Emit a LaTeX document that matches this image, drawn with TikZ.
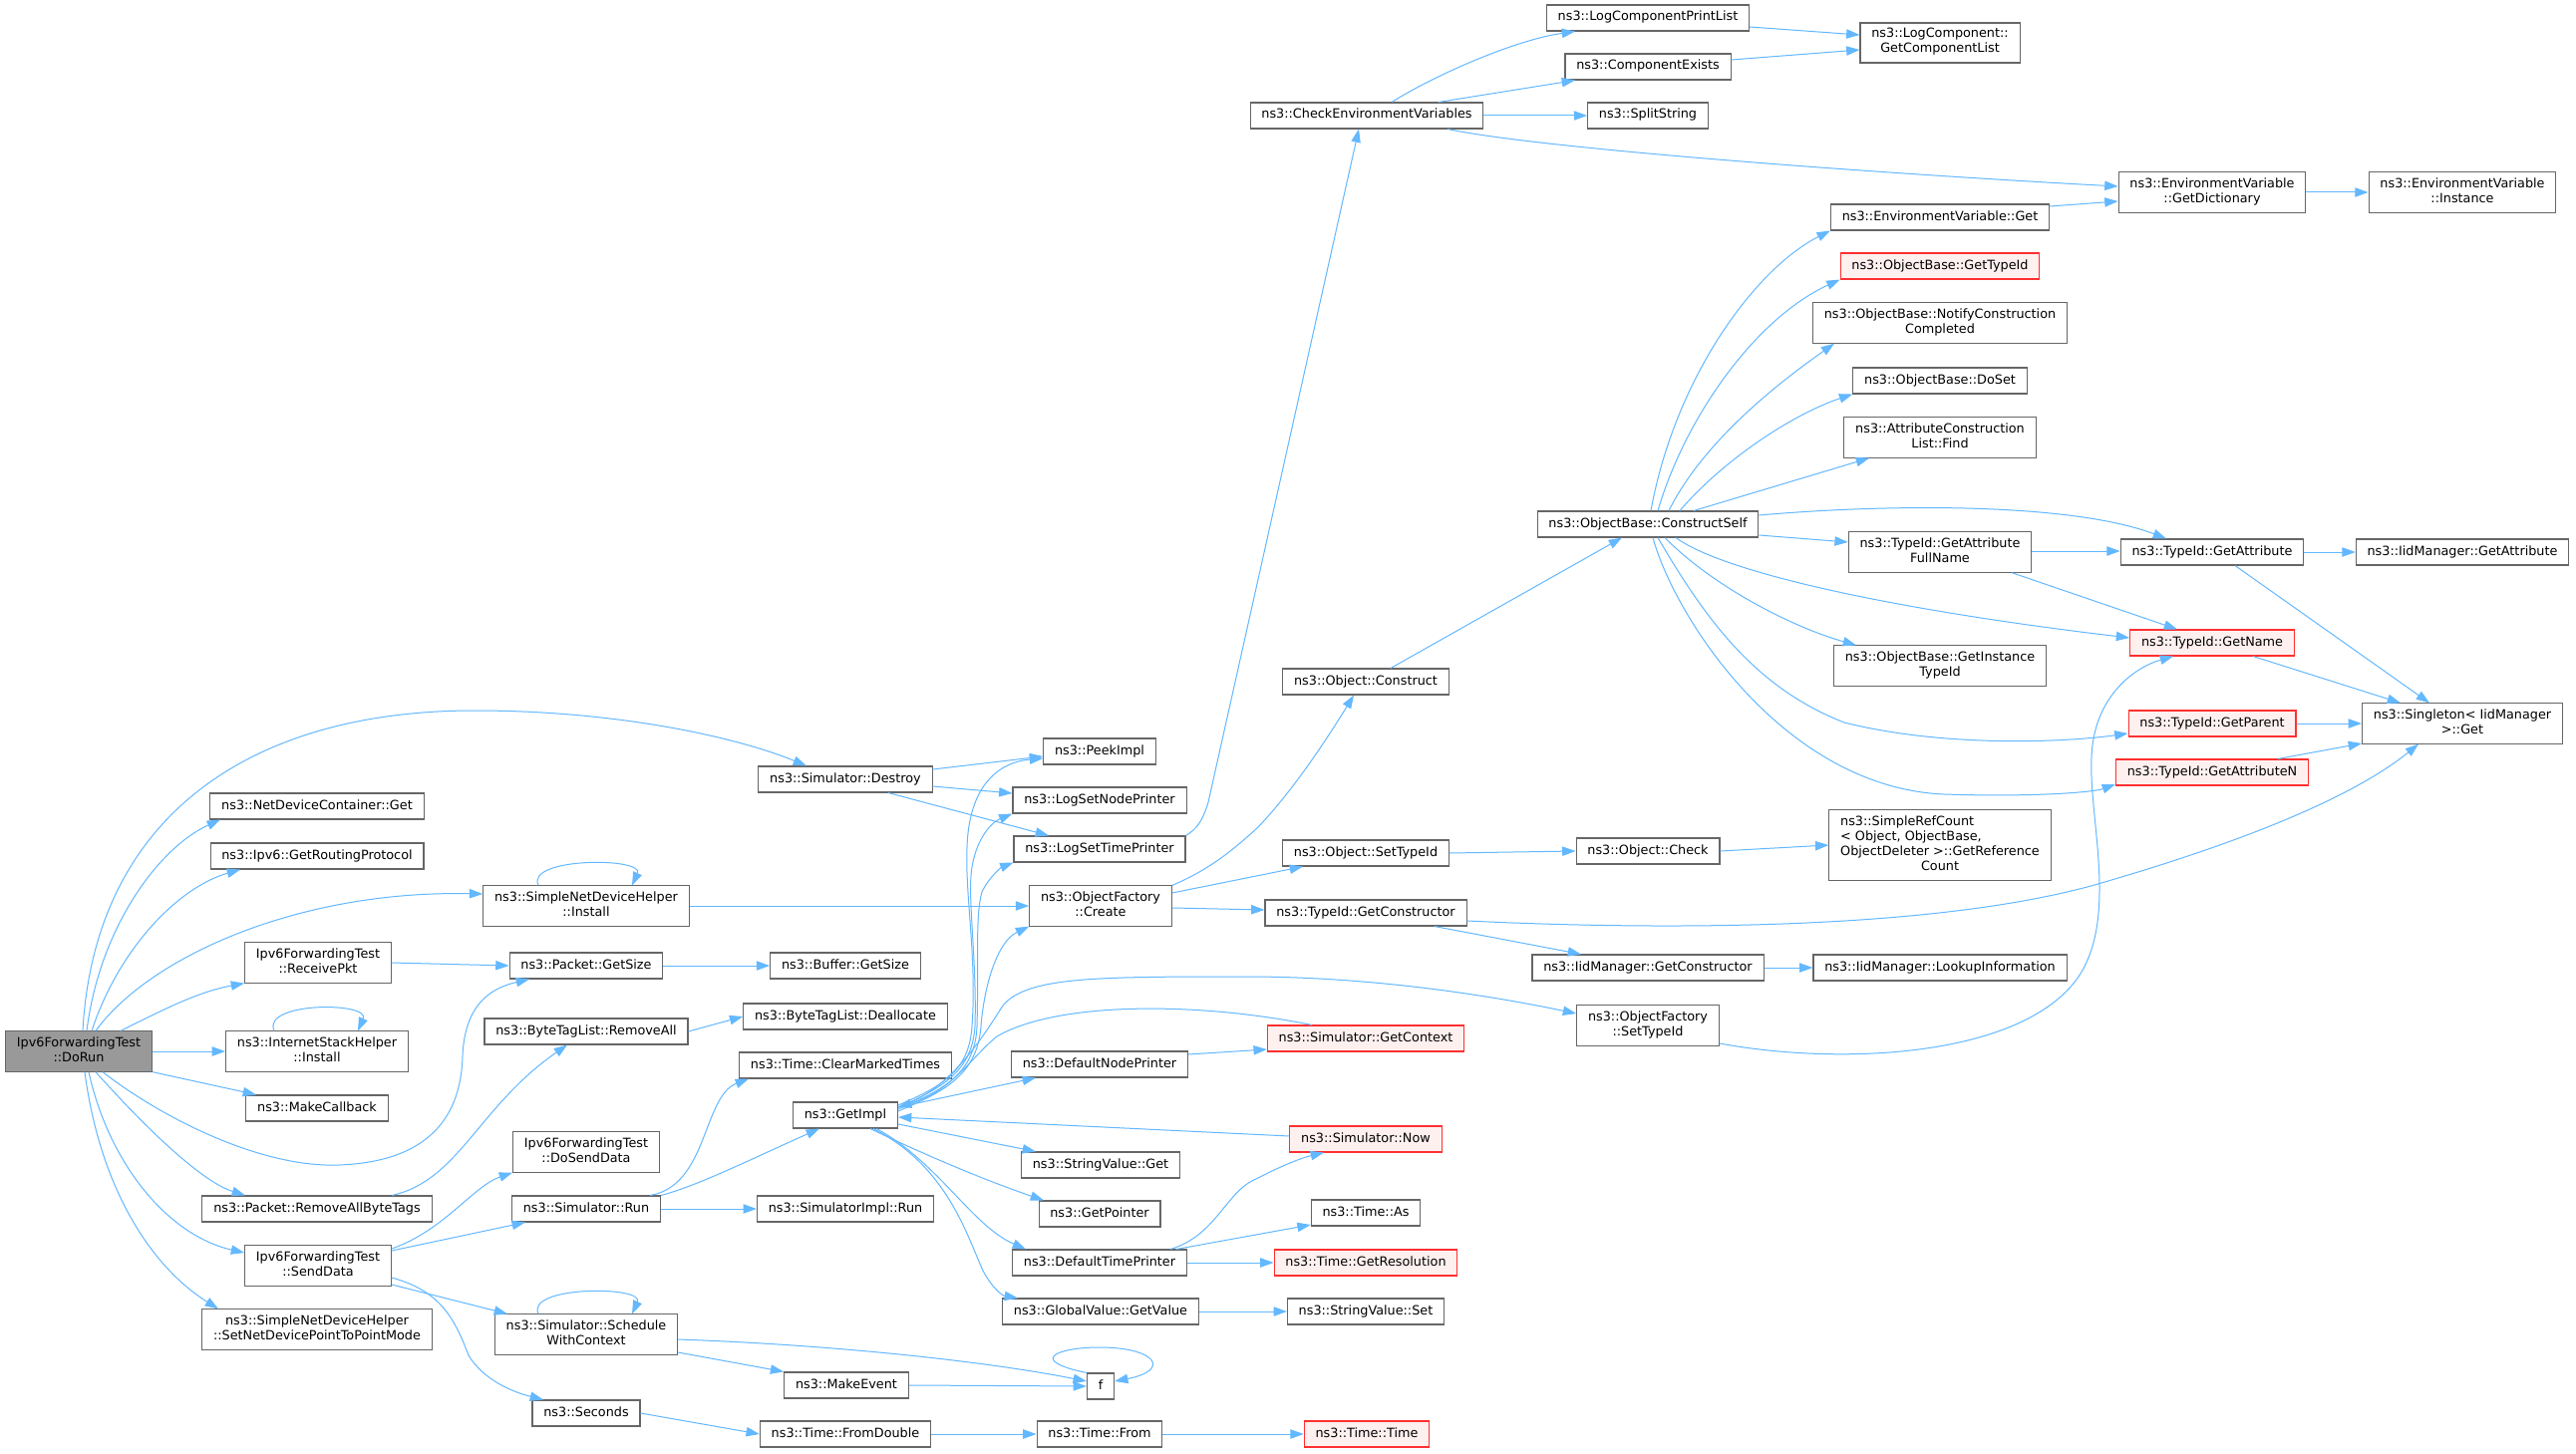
\documentclass[tikz,border=0pt]{standalone}
\usepackage{fontspec}
\setmainfont{DejaVu Sans}
\usetikzlibrary{arrows.meta}
\definecolor{callblue}{HTML}{63B8FF}
\definecolor{boxgray}{HTML}{666666}
\definecolor{rootgray}{HTML}{999999}
\definecolor{redfill}{HTML}{FFF0F0}
\definecolor{redline}{HTML}{FF3030}

\begin{document}
\begin{tikzpicture}[x=0.75pt, y=-0.75pt,
            fn/.style={draw=boxgray, line width=0.8pt, fill=white, align=center,
                inner xsep=8.5pt, inner ysep=4.125pt,
                font=\fontsize{9.6}{11.25}\selectfont,
                execute at begin node=\strut, execute at end node=\strut},
            root/.style={fn, fill=rootgray},
            missing/.style={fn, draw=redline, fill=redfill},
            call/.style={draw=callblue, line width=0.75pt, -{Triangle[length=10pt,width=7pt]}}]

                \fill[white] (0,0) rectangle (2584,1459);
                \useasboundingbox (0,0) rectangle (2584,1459);

                % Funções
                \node[root] (dorun) at (79,1055) {Ipv6ForwardingTest\\::DoRun};

                \node[fn] (ndcget) at (318,809) {ns3::NetDeviceContainer::Get};
                \node[fn] (routing) at (318,859) {ns3::Ipv6::GetRoutingProtocol};
                \node[fn] (recv) at (319,966) {Ipv6ForwardingTest\\::ReceivePkt};
                \node[fn] (inetinst) at (318,1055) {ns3::InternetStackHelper\\::Install};
                \node[fn] (mkcb) at (318,1112) {ns3::MakeCallback};
                \node[fn] (rmtags) at (318,1213) {ns3::Packet::RemoveAllByteTags};
                \node[fn] (senddata) at (319,1270) {Ipv6ForwardingTest\\::SendData};
                \node[fn] (p2pmode) at (318,1334) {ns3::SimpleNetDeviceHelper\\::SetNetDevicePointToPointMode};

                \node[fn] (sndhinst) at (588,909) {ns3::SimpleNetDeviceHelper\\::Install};
                \node[fn] (pktsize) at (588,969) {ns3::Packet::GetSize};
                \node[fn] (btlrmall) at (588,1035) {ns3::ByteTagList::RemoveAll};
                \node[fn] (dosend) at (588,1156) {Ipv6ForwardingTest\\::DoSendData};
                \node[fn] (simrun) at (588,1213) {ns3::Simulator::Run};
                \node[fn] (schedctx) at (588,1339) {ns3::Simulator::Schedule\\WithContext};
                \node[fn] (seconds) at (588,1418) {ns3::Seconds};

                \node[fn] (destroy) at (848,782) {ns3::Simulator::Destroy};
                \node[fn] (bufsize) at (848,969) {ns3::Buffer::GetSize};
                \node[fn] (dealloc) at (848,1020) {ns3::ByteTagList::Deallocate};
                \node[fn] (clrmark) at (848,1069) {ns3::Time::ClearMarkedTimes};
                \node[fn] (getimpl) at (848,1119) {ns3::GetImpl};
                \node[fn] (implrun) at (848,1213) {ns3::SimulatorImpl::Run};
                \node[fn] (mkevent) at (849,1390) {ns3::MakeEvent};
                \node[fn] (fromdbl) at (848,1439) {ns3::Time::FromDouble};

                \node[fn] (peekimpl) at (1103,754) {ns3::PeekImpl};
                \node[fn] (lognode) at (1103,803) {ns3::LogSetNodePrinter};
                \node[fn] (logtime) at (1103,852) {ns3::LogSetTimePrinter};
                \node[fn] (ofcreate) at (1104,909) {ns3::ObjectFactory\\::Create};
                \node[fn] (defnode) at (1103,1068) {ns3::DefaultNodePrinter};
                \node[fn] (strget) at (1104,1169) {ns3::StringValue::Get};
                \node[fn] (getptr) at (1103,1218) {ns3::GetPointer};
                \node[fn] (deftime) at (1103,1267) {ns3::DefaultTimePrinter};
                \node[fn] (gvget) at (1104,1316) {ns3::GlobalValue::GetValue};
                \node[fn] (f) at (1104,1391) {f};
                \node[fn] (timefrom) at (1103,1439) {ns3::Time::From};

                \node[fn] (checkenv) at (1371,116) {ns3::CheckEnvironmentVariables};
                \node[fn] (objconstr) at (1370,684) {ns3::Object::Construct};
                \node[fn] (objsettid) at (1370,856) {ns3::Object::SetTypeId};
                \node[fn] (getctor) at (1370,916) {ns3::TypeId::GetConstructor};
                \node[missing] (getctx) at (1370,1042) {ns3::Simulator::GetContext};
                \node[missing] (simnow) at (1370,1143) {ns3::Simulator::Now};
                \node[fn] (timeas) at (1370,1217) {ns3::Time::As};
                \node[missing] (getres) at (1370,1267) {ns3::Time::GetResolution};
                \node[fn] (strset) at (1370,1316) {ns3::StringValue::Set};
                \node[missing] (timetime) at (1371,1439) {ns3::Time::Time};

                \node[fn] (printlist) at (1653,18) {ns3::LogComponentPrintList};
                \node[fn] (compexists) at (1653,67) {ns3::ComponentExists};
                \node[fn] (splitstr) at (1653,116) {ns3::SplitString};
                \node[fn] (constrself) at (1653,526) {ns3::ObjectBase::ConstructSelf};
                \node[fn] (objcheck) at (1653,854) {ns3::Object::Check};
                \node[fn] (iidctor) at (1653,971) {ns3::IidManager::GetConstructor};
                \node[fn] (ofsettid) at (1653,1029) {ns3::ObjectFactory\\::SetTypeId};

                \node[fn] (complist) at (1946,43) {ns3::LogComponent::\\GetComponentList};
                \node[fn] (envget) at (1946,218) {ns3::EnvironmentVariable::Get};
                \node[missing] (obgettid) at (1946,267) {ns3::ObjectBase::GetTypeId};
                \node[fn] (notify) at (1946,324) {ns3::ObjectBase::NotifyConstruction\\Completed};
                \node[fn] (doset) at (1946,382) {ns3::ObjectBase::DoSet};
                \node[fn] (acfind) at (1946,439) {ns3::AttributeConstruction\\List::Find};
                \node[fn] (attrfull) at (1946,554) {ns3::TypeId::GetAttribute\\FullName};
                \node[fn] (insttid) at (1946,668) {ns3::ObjectBase::GetInstance\\TypeId};
                \node[fn] (refcount) at (1946,848) {\begin{tabular}{@{}l@{}}ns3::SimpleRefCount\\
                    {<} Object, ObjectBase,\\ObjectDeleter {>}::GetReference\\
                    \multicolumn{1}{@{}c@{}}{Count}\end{tabular}};
                \node[fn] (lookup) at (1946,971) {ns3::IidManager::LookupInformation};

                \node[fn] (getdict) at (2219,193) {ns3::EnvironmentVariable\\::GetDictionary};
                \node[fn] (getattr) at (2219,554) {ns3::TypeId::GetAttribute};
                \node[missing] (getname) at (2219,645) {ns3::TypeId::GetName};
                \node[missing] (getparent) at (2219,726) {ns3::TypeId::GetParent};
                \node[missing] (getattrn) at (2219,775) {ns3::TypeId::GetAttributeN};

                \node[fn] (envinst) at (2470,193) {ns3::EnvironmentVariable\\::Instance};
                \node[fn] (iidattr) at (2470,554) {ns3::IidManager::GetAttribute};
                \node[fn] (singleton) at (2470,726) {ns3::Singleton{<} IidManager\\{>}::Get};

                % Chamadas
                \draw[call] (83,0 |- dorun.north) .. controls (95,820) and (250,713) .. (476,713)
                    .. controls (620,713) and (740,740) .. (809,0 |- destroy.north);
                \draw[call] (87,0 |- dorun.north) .. controls (100,930) and (160,850) .. (221,0 |- ndcget.south);
                \draw[call] (92,0 |- dorun.north) .. controls (120,950) and (180,890) .. (241,0 |- routing.south);
                \draw[call] (96,0 |- dorun.north) .. controls (150,960) and (300,893) .. (sndhinst.west |- 0,897);
                \draw[call] (121,0 |- dorun.north) .. controls (170,1010) and (200,995) .. (recv.south west);
                \draw[call] (dorun.east) -- (inetinst.west);
                \draw[call] (dorun.south east) -- (257,0 |- mkcb.north);
                \draw[call] (103,0 |- dorun.south) .. controls (160,1120) and (260,1172) .. (340,1169)
                    .. controls (420,1166) and (462,1130) .. (464,1060)
                    .. controls (466,1010) and (490,992) .. (531,0 |- pktsize.south);
                \draw[call] (96,0 |- dorun.south) .. controls (140,1125) and (200,1185) .. (246,0 |- rmtags.north);
                \draw[call] (89,0 |- dorun.south) .. controls (110,1170) and (170,1240) .. (senddata.west |- 0,1257);
                \draw[call] (85,0 |- dorun.south) .. controls (100,1190) and (150,1270) .. (219,0 |- p2pmode.north);

                \draw[call] (recv.east) -- (pktsize.west);
                \draw[call] (275,0 |- inetinst.north) .. controls (262,1005) and (372,1005) .. (359,0 |- inetinst.north);
                \draw[call] (540,0 |- sndhinst.north) .. controls (527,860) and (647,860) .. (634,0 |- sndhinst.north);
                \draw[call] (sndhinst.east) -- (ofcreate.west);
                \draw[call] (pktsize.east) -- (bufsize.west);
                \draw[call] (btlrmall.east) -- (dealloc.west);
                \draw[call] (393,0 |- rmtags.north) .. controls (460,1185) and (480,1110) .. (569,0 |- btlrmall.south);

                \draw[call] (senddata.east |- 0,1253) .. controls (445,1235) and (475,1190) .. (dosend.south west);
                \draw[call] (senddata.east |- 0,1255) -- (527,0 |- simrun.south);
                \draw[call] (senddata.east |- 0,1289) -- (509,0 |- schedctx.north);
                \draw[call] (senddata.east |- 0,1282) .. controls (440,1295) and (455,1320) .. (470,1360)
                    .. controls (485,1385) and (515,1397) .. (545,0 |- seconds.north);

                \draw[call] (540,0 |- schedctx.north) .. controls (527,1290) and (647,1290) .. (634,0 |- schedctx.north);
                \draw[call] (schedctx.east |- 0,1357) -- (mkevent.north west);
                \draw[call] (schedctx.east |- 0,1344) .. controls (850,1350) and (1000,1368) .. (f.west |- 0,1386);
                \draw[call] (mkevent.east) -- (f.west);
                \draw[call] (f.north west) .. controls (1030,1365) and (1060,1352) .. (1103,1352)
                    .. controls (1160,1352) and (1175,1375) .. (f.east |- 0,1386);
                \draw[call] (seconds.east) -- (fromdbl.west);
                \draw[call] (fromdbl.east) -- (timefrom.west);
                \draw[call] (timefrom.east) -- (timetime.west);

                \draw[call] (652,0 |- simrun.north) .. controls (710,1190) and (705,1100) .. (751,0 |- clrmark.south);
                \draw[call] (simrun.north east) .. controls (700,1190) and (760,1160) .. (822,0 |- getimpl.south);
                \draw[call] (simrun.east) -- (implrun.west);

                \draw[call] (destroy.east |- 0,772) -- (peekimpl.west |- 0,759);
                \draw[call] (destroy.east |- 0,789) -- (lognode.west |- 0,796);
                \draw[call] (891,0 |- destroy.south) -- (1052,0 |- logtime.north);

                \draw[call] (getimpl.east |- 0,1109) .. controls (945,1090) and (972,1075) .. (975,1030)
                    .. controls (980,960) and (968,900) .. (970,850)
                    .. controls (972,790) and (1000,765) .. (peekimpl.west |- 0,761);
                \draw[call] (getimpl.east |- 0,1111) .. controls (945,1092) and (975,1075) .. (978,1030)
                    .. controls (980,960) and (970,900) .. (975,870)
                    .. controls (980,840) and (995,825) .. (lognode.south west);
                \draw[call] (getimpl.east |- 0,1113) .. controls (945,1094) and (978,1078) .. (980,1030)
                    .. controls (982,960) and (978,920) .. (985,895)
                    .. controls (992,880) and (1005,870) .. (logtime.south west);
                \draw[call] (getimpl.east |- 0,1115) .. controls (945,1096) and (980,1080) .. (984,1030)
                    .. controls (987,990) and (1000,945) .. (ofcreate.south west);
                \draw[call] (getimpl.east |- 0,1111) .. controls (950,1095) and (980,1050) .. (1006,1009)
                    .. controls (1030,980) and (1100,980) .. (1250,980)
                    .. controls (1380,980) and (1500,1000) .. (ofsettid.west |- 0,1017);
                \draw[call] (1316,0 |- getctx.north) .. controls (1200,1005) and (1060,1005) .. (1000,1040)
                    .. controls (975,1060) and (955,1095) .. (getimpl.east |- 0,1111);
                \draw[call] (simnow.west |- 0,1140) -- (getimpl.east |- 0,1121);
                \draw[call] (getimpl.east |- 0,1111) -- (1039,0 |- defnode.south);
                \draw[call] (getimpl.east |- 0,1128) -- (1039,0 |- strget.north);
                \draw[call] (873,0 |- getimpl.south) .. controls (930,1160) and (990,1185) .. (1047,0 |- getptr.north);
                \draw[call] (879,0 |- getimpl.south) .. controls (940,1165) and (975,1230) .. (1029,0 |- deftime.north);
                \draw[call] (876,0 |- getimpl.south) .. controls (950,1170) and (970,1240) .. (986,1275)
                    .. controls (995,1292) and (1005,1300) .. (1021,0 |- gvget.north);

                \draw[call] (defnode.east |- 0,1058) -- (getctx.west |- 0,1053);
                \draw[call] (1174,0 |- deftime.north) .. controls (1220,1240) and (1230,1195) .. (1260,1183)
                    .. controls (1285,1170) and (1305,1162) .. (1328,0 |- simnow.south);
                \draw[call] (1180,0 |- deftime.north) -- (timeas.west |- 0,1229);
                \draw[call] (deftime.east) -- (getres.west);
                \draw[call] (gvget.east) -- (strset.west);

                \draw[call] (ofcreate.north east) .. controls (1215,872) and (1240,850) .. (1262,830)
                    .. controls (1300,790) and (1335,735) .. (1358,0 |- objconstr.south);
                \draw[call] (ofcreate.east |- 0,896) -- (1307,0 |- objsettid.south);
                \draw[call] (ofcreate.east |- 0,911) -- (getctor.west |- 0,913);
                \draw[call] (logtime.north east) .. controls (1200,832) and (1206,825) .. (1212,805)
                    -- (1363,0 |- checkenv.south);

                \draw[call] (1395,0 |- objconstr.north) -- (1627,0 |- constrself.south);
                \draw[call] (objsettid.east) -- (objcheck.west);
                \draw[call] (objcheck.east) -- (refcount.west);
                \draw[call] (1439,0 |- getctor.south) -- (1586,0 |- iidctor.north);
                \draw[call] (getctor.east |- 0,924) .. controls (1700,935) and (1950,930) .. (2101,888)
                    .. controls (2250,845) and (2360,800) .. (2426,0 |- singleton.south);
                \draw[call] (iidctor.east) -- (lookup.west);
                \draw[call] (ofsettid.east |- 0,1047) .. controls (1850,1070) and (2030,1060) .. (2085,980)
                    .. controls (2125,920) and (2095,820) .. (2098,760)
                    .. controls (2100,700) and (2140,670) .. (2180,0 |- getname.south);

                \draw[call] (1656,0 |- constrself.north) .. controls (1680,380) and (1760,270) .. (envget.south west);
                \draw[call] (1663,0 |- constrself.north) .. controls (1690,420) and (1760,320) .. (obgettid.south west);
                \draw[call] (1674,0 |- constrself.north) .. controls (1710,440) and (1790,380) .. (1840,0 |- notify.south);
                \draw[call] (1685,0 |- constrself.north) .. controls (1730,460) and (1800,415) .. (doset.south west);
                \draw[call] (1699,0 |- constrself.north) -- (1875,0 |- acfind.south);
                \draw[call] (constrself.east |- 0,517) .. controls (1900,505) and (2080,505) .. (2173,0 |- getattr.north);
                \draw[call] (constrself.east |- 0,537) -- (attrfull.west |- 0,544);
                \draw[call] (1681,0 |- constrself.south) .. controls (1730,575) and (1900,612) .. (getname.west |- 0,640);
                \draw[call] (1670,0 |- constrself.south) .. controls (1720,590) and (1800,630) .. (1862,0 |- insttid.north);
                \draw[call] (1663,0 |- constrself.south) .. controls (1710,620) and (1760,690) .. (1850,725)
                    .. controls (1950,750) and (2070,745) .. (getparent.west |- 0,736);
                \draw[call] (1658,0 |- constrself.south) .. controls (1680,620) and (1790,790) .. (1950,797)
                    .. controls (2040,800) and (2100,795) .. (getattrn.west |- 0,787);

                \draw[call] (1396,0 |- checkenv.north) .. controls (1440,75) and (1520,40) .. (1580,0 |- printlist.south);
                \draw[call] (1443,0 |- checkenv.north) -- (1580,0 |- compexists.south);
                \draw[call] (checkenv.east) -- (splitstr.west);
                \draw[call] (1452,0 |- checkenv.south) .. controls (1550,150) and (1900,175) .. (getdict.west |- 0,187);
                \draw[call] (printlist.east |- 0,27) -- (complist.west |- 0,35);
                \draw[call] (compexists.east |- 0,60) -- (complist.west |- 0,50);
                \draw[call] (envget.east |- 0,207) -- (getdict.west |- 0,202);
                \draw[call] (getdict.east) -- (envinst.west);

                \draw[call] (attrfull.east |- 0,553) -- (getattr.west |- 0,553);
                \draw[call] (2018,0 |- attrfull.south) -- (2184,0 |- getname.north);
                \draw[call] (getattr.east) -- (iidattr.west);
                \draw[call] (2242,0 |- getattr.south) -- (2437,0 |- singleton.north);
                \draw[call] (2260,0 |- getname.south) -- (2408,0 |- singleton.north);
                \draw[call] (getparent.east) -- (singleton.west);
                \draw[call] (2285,0 |- getattrn.north) -- (singleton.west |- 0,746);
        \end{tikzpicture}
\end{document}
